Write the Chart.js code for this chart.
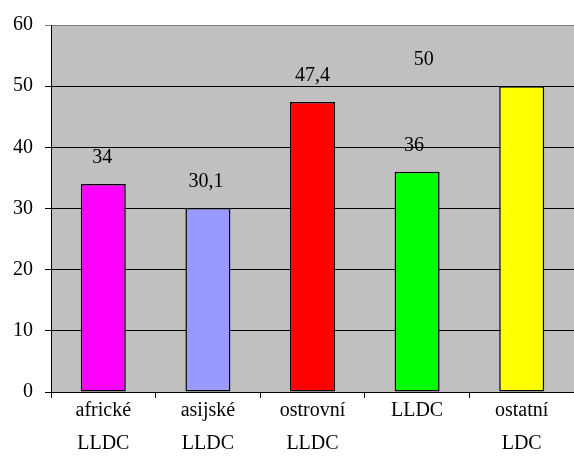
<!DOCTYPE html>
<html>
<head>
<meta charset="utf-8">
<script src="https://cdn.jsdelivr.net/npm/chart.js@4/dist/chart.umd.min.js"></script>
<style>
  html, body { margin: 0; padding: 0; background: #fff; }
  #wrap { width: 574px; height: 462px; }
</style>
</head>
<body>
<div id="wrap"><canvas id="c" width="574" height="462"></canvas></div>
<script>
const categories = [['africké', 'LLDC'], ['asijské', 'LLDC'], ['ostrovní', 'LLDC'], 'LLDC', ['ostatní', 'LDC']];
const values = [34, 30.1, 47.4, 36, 50];
const valueLabels = ['34', '30,1', '47,4', '36', '50'];
const barColors = ['#FF00FF', '#9999FF', '#FF0000', '#00FF00', '#FFFF00'];
const yTicks = [0, 10, 20, 30, 40, 50, 60];

const FONT = '"Liberation Serif", "Times New Roman", Times, serif';
const FSIZE = 20;

const plotBg = {
  id: 'plotBg',
  beforeDraw(chart) {
    const { ctx, chartArea: a } = chart;
    ctx.save();
    ctx.fillStyle = '#C0C0C0';
    ctx.fillRect(a.left, a.top, a.right - a.left, a.bottom - a.top);
    ctx.restore();
  }
};

const valueLabelPlugin = {
  id: 'valueLabels',
  afterDatasetsDraw(chart, args, opts) {
    const { ctx } = chart;
    const meta = chart.getDatasetMeta(0);
    ctx.save();
    ctx.font = FSIZE + 'px ' + FONT;
    ctx.fillStyle = '#000';
    ctx.textAlign = 'center';
    ctx.textBaseline = 'middle';
    meta.data.forEach((bar, i) => {
      const dx = (opts.shiftX && opts.shiftX[i]) || 0;
      ctx.fillText(valueLabels[i], bar.x + dx, bar.y - 26);
    });
    ctx.restore();
  }
};

new Chart(document.getElementById('c'), {
  type: 'bar',
  data: {
    labels: categories,
    datasets: [{
      data: values,
      backgroundColor: barColors,
      borderColor: '#000',
      borderWidth: 1.5,
      borderSkipped: false,
      barPercentage: 0.43,
      categoryPercentage: 1.0
    }]
  },
  plugins: [plotBg, valueLabelPlugin],
  options: {
    responsive: false,
    animation: false,
    devicePixelRatio: 1,
    layout: { padding: { top: 25, right: 0, left: 0, bottom: 0 } },
    plugins: {
      legend: { display: false },
      tooltip: { enabled: false },
      valueLabels: { shiftX: [-1, -2, 0, -3, -98] }
    },
    scales: {
      x: {
        afterFit(scale) { scale.height = 70; },
        grid: {
          display: true,
          drawOnChartArea: false,
          drawTicks: true,
          tickLength: 6,
          color: '#000',
          offset: true
        },
        border: { display: true, color: '#000', width: 1 },
        ticks: {
          color: '#000',
          font: { family: FONT, size: FSIZE, lineHeight: 33 / FSIZE },
          padding: -4,
          maxRotation: 0,
          autoSkip: false
        }
      },
      y: {
        min: 0,
        max: 60,
        afterFit(scale) { scale.width = 51; },
        afterBuildTicks(scale) { scale.ticks = yTicks.map(v => ({ value: v })); },
        grid: {
          color: (c) => (c.tick && c.tick.value === 60) ? '#808080' : '#000',
          lineWidth: 1,
          tickLength: 6,
          drawTicks: true
        },
        border: { display: true, color: '#000', width: 1 },
        ticks: {
          color: '#000',
          font: { family: FONT, size: FSIZE },
          padding: 12,
          stepSize: 10
        }
      }
    }
  }
});
</script>
</body>
</html>
